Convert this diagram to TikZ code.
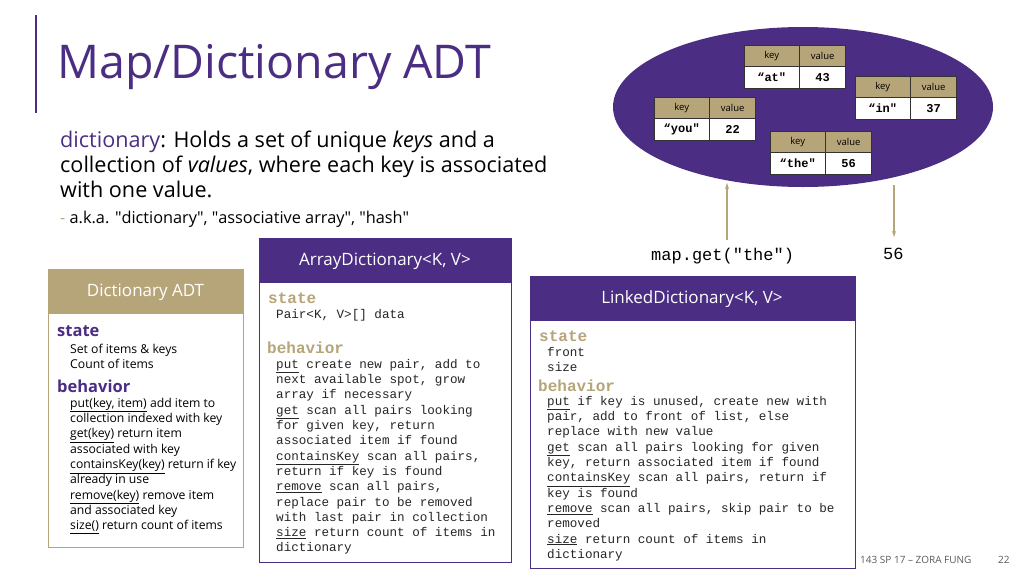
\documentclass[tikz,border=0pt]{standalone}
\usepackage{fontspec}
\setmainfont{Open Sans}
\setmonofont{Liberation Mono}
\definecolor{uwp}{HTML}{4B2E83}
\definecolor{uwg}{HTML}{B7A57A}
\definecolor{foot}{HTML}{595959}
\newcommand{\fs}[1]{\fontsize{#1}{#1}\selectfont}
\newcommand{\ul}[1]{\underline{#1}}
\newcommand{\qq}{\textquotedbl}
\tikzset{
 ln/.style={anchor=base west,inner sep=0pt},
 mono/.style={ln,font=\ttfamily\fs{12.6},text=black!85},
 monohd/.style={ln,font=\ttfamily\bfseries\fs{16},text=uwg},
 sans/.style={ln,font=\fs{12.2}},
 sanshd/.style={ln,font=\bfseries\fs{16.5},text=uwp},
 hdr/.style={font=\fs{17},text=white},
 cellh/.style={draw=black!80,fill=uwg,minimum height=21pt,inner sep=0pt,font=\fs{9.5}},
 cellb/.style={draw=black!80,fill=white,minimum height=22pt,inner sep=0pt,font=\ttfamily\bfseries\fs{12}},
 arr/.style={draw=uwg,line width=1.2pt,-{Stealth[length=6pt,width=4pt]}},
}
\usetikzlibrary{arrows.meta}
\newcommand{\kv}[5]{% name, x, y (top), key, value
 \node[cellh,minimum width=55pt,anchor=north west] (#1kh) at (#2,#3) {key};
 \node[cellh,minimum width=46pt,anchor=north west] (#1vh) at (#1kh.north east) {value};
 \node[cellb,minimum width=55pt,anchor=north west] (#1kb) at (#1kh.south west) {#4};
 \node[cellb,minimum width=46pt,anchor=north west] (#1vb) at (#1kb.north east) {#5};}
\begin{document}
\begin{tikzpicture}[x=1pt,y=-1pt]
\useasboundingbox (0,0) rectangle (1024,576);
\draw[uwp,line width=1.2pt] (36,15) -- (36,113);
\node[ln,font=\fs{46.5},text=uwp] (title) at (57,78) {Map/Dictionary ADT};
\node[ln,font=\fs{21.6}] (d1) at (60,147) {\textcolor{uwp}{dictionary}: Holds a set of unique \textit{keys} and a};
\node[ln,font=\fs{21.6}] (d2) at (60,172) {collection of \textit{values}, where each key is associated};
\node[ln,font=\fs{21.6}] (d3) at (60,197) {with one value.};
\node[ln,font=\fs{16.3}] (d4) at (60,223) {\textcolor{uwg}{-} a.k.a. \qq dictionary\qq, \qq associative array\qq, \qq hash\qq};
% ellipse
\fill[uwp] (803,107) ellipse [x radius=190, y radius=80];
\kv{at}{744}{45}{“at\qq}{43}
\kv{in}{855}{76}{“in\qq}{37}
\kv{you}{654}{97}{“you\qq}{22}
\kv{the}{770}{131}{“the\qq}{56}
\coordinate (a1s) at (727,240); \coordinate (a1e) at (727,183);
\coordinate (a2s) at (894,185); \coordinate (a2e) at (894,237);
\draw[arr] (a1s) -- (a1e);
\draw[arr] (a2s) -- (a2e);
\node[ln,font=\ttfamily\fs{17}] (call) at (651,260) {map.get("the")};
\node[ln,font=\ttfamily\fs{17}] (res) at (883,259) {56};
% Dictionary ADT
\draw[uwg,fill=white] (48,269) rectangle (243,547);
\fill[uwg] (48,269) rectangle (243,314);
\node[hdr] (h1) at (145.5,292) {Dictionary ADT};
\node[sanshd] (s1) at (57,336) {state};
\node[sans] at (70,353) {Set of items \& keys};
\node[sans] at (70,368) {Count of items};
\node[sanshd] (b1) at (57,392) {behavior};
\foreach \t [count=\i] in {{\ul{put(key, item)} add item to},{collection indexed with key},{\ul{get(key)} return item},{associated with key},{\ul{containsKey(key)} return if key},{already in use},{\ul{remove(key)} remove item},{and associated key},{\ul{size()} return count of items}}
 \node[sans] at (70,392+15.3*\i) {\t};
% ArrayDictionary
\draw[uwp,line width=1pt,fill=white] (259,238) rectangle (511,562);
\fill[uwp] (259,238) rectangle (511,283);
\node[hdr] (h2) at (385,261) {ArrayDictionary<K, V>};
\node[monohd] at (268,303) {state};
\node[mono] at (276,318) {Pair<K, V>[] data};
\node[monohd] at (267,353) {behavior};
\foreach \t [count=\i] in {{\ul{put} create new pair, add to},{next available spot, grow},{array if necessary},{\ul{get} scan all pairs looking},{for given key, return},{associated item if found},{\ul{containsKey} scan all pairs,},{return if key is found},{\ul{remove} scan all pairs,},{replace pair to be removed},{with last pair in collection},{\ul{size} return count of items in},{dictionary}}
 \node[mono] at (276,353+15.3*\i) {\t};
% LinkedDictionary
\draw[uwp,line width=1pt,fill=white] (530,276) rectangle (855,568);
\fill[uwp] (530,276) rectangle (855,321);
\node[hdr] (h3) at (692,299) {LinkedDictionary<K, V>};
\node[monohd] at (539,341) {state};
\node[mono] at (547,356) {front};
\node[mono] at (547,371) {size};
\node[monohd] at (538,391) {behavior};
\foreach \t [count=\i] in {{\ul{put} if key is unused, create new with},{pair, add to front of list, else},{replace with new value},{\ul{get} scan all pairs looking for given},{key, return associated item if found},{\ul{containsKey} scan all pairs, return if},{key is found},{\ul{remove} scan all pairs, skip pair to be},{removed},{\ul{size} return count of items in},{dictionary}}
 \node[mono] at (547,390+15.3*\i) {\t};
\node[ln,font=\fs{10},text=foot] (ft) at (860,563) {143 SP 17 – ZORA FUNG};
\node[ln,font=\fs{10},text=foot] (pg) at (998,563) {22};
\end{tikzpicture}
\end{document}
